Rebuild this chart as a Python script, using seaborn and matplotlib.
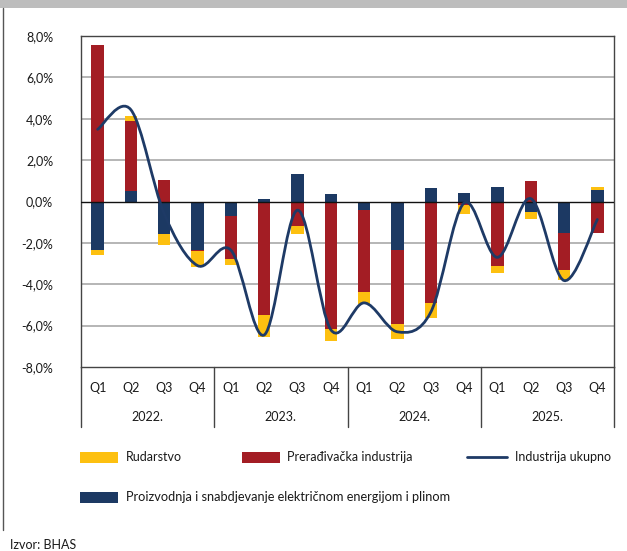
import numpy as np
import pandas as pd
import matplotlib
matplotlib.use("Agg")
import matplotlib.pyplot as plt
import seaborn as sns
from matplotlib.path import Path
from matplotlib.patches import PathPatch, Rectangle
from matplotlib.lines import Line2D

# ---------------- data ----------------
years = ["2022.", "2023.", "2024.", "2025."]
quarters = ["Q1", "Q2", "Q3", "Q4"]
periods = [f"{y} {q}" for y in years for q in quarters]

energija = [-2.36, 0.50, -1.58, -2.36, -0.70, 0.10, 1.31, 0.35,
            -0.42, -2.33, 0.66, 0.43, 0.68, -0.50, -1.52, 0.58]
preradjivacka = [7.57, 3.40, 1.06, -0.05, -2.06, -5.51, -1.20, -6.15,
                 -3.96, -3.58, -4.89, -0.18, -3.13, 1.00, -1.77, -1.52]
rudarstvo = [-0.21, 0.23, -0.52, -0.76, -0.29, -1.05, -0.38, -0.57,
             -0.59, -0.73, -0.76, -0.43, -0.32, -0.36, -0.52, 0.10]
ukupno = [3.49, 4.43, -0.60, -3.10, -2.35, -6.45, -0.42, -6.20,
          -4.90, -6.30, -5.35, -0.07, -2.70, 0.14, -3.82, -0.87]

yticks = [8, 6, 4, 2, 0, -2, -4, -6, -8]

series_names = ["Proizvodnja i snabdjevanje električnom energijom i plinom",
                "Prerađivačka industrija", "Rudarstvo"]
line_name = "Industrija ukupno"

C_YEL = "#FDC010"
C_RED = "#A31D24"
C_BLU = "#1C3963"
C_LINE = "#1E3A66"
TXT = "#1A1A1A"

# ---------------- figure ----------------
sns.set_theme(style="white")
plt.rcParams['font.family'] = ['Lato', 'DejaVu Sans']

fig = plt.figure(figsize=(6.27, 5.51), dpi=100)
W, H = 627, 551
ax = fig.add_axes([81 / W, 1 - 367 / H, (614 - 81) / W, (367 - 36) / H])

# stacked bars (separate positive / negative stacks, order blue, red, yellow)
pos_base = np.zeros(len(periods))
neg_base = np.zeros(len(periods))
for vals, col in [(energija, C_BLU), (preradjivacka, C_RED), (rudarstvo, C_YEL)]:
    v = np.array(vals)
    bottom = np.where(v >= 0, pos_base, neg_base)
    df = pd.DataFrame({"period": periods, "value": v})
    sns.barplot(data=df, x="period", y="value", order=periods, color=col,
                saturation=1, width=0.37, bottom=bottom, ax=ax,
                linewidth=0, zorder=3)
    pos_base = pos_base + np.where(v >= 0, v, 0)
    neg_base = neg_base + np.where(v < 0, v, 0)

# smoothed total line (Excel style cubic Bezier through points)
xs = np.arange(len(ukupno), dtype=float)
ys = np.array(ukupno, dtype=float)
pts = np.column_stack([xs, ys])
verts = [tuple(pts[0])]
codes = [Path.MOVETO]
n = len(pts)
for i in range(n - 1):
    p0 = pts[i - 1] if i > 0 else pts[i]
    p1 = pts[i]
    p2 = pts[i + 1]
    p3 = pts[i + 2] if i + 2 < n else pts[i + 1]
    c1 = p1 + (p2 - p0) / 6.0
    c2 = p2 - (p3 - p1) / 6.0
    verts += [tuple(c1), tuple(c2), tuple(p2)]
    codes += [Path.CURVE4, Path.CURVE4, Path.CURVE4]
ax.add_patch(PathPatch(Path(verts, codes), facecolor="none", edgecolor=C_LINE,
                       lw=2.0, zorder=5, capstyle="round"))

# axes styling
ax.set_xlim(-0.5, len(periods) - 0.5)
ax.set_ylim(-8, 8)
ax.set_yticks(yticks)
ax.set_yticklabels([f"{t:.1f}".replace(".", ",") + "%" for t in yticks], fontsize=9, color=TXT)
ax.tick_params(axis="y", length=0, pad=20)
ax.set_xticks(range(len(periods)))
ax.set_xticklabels([q for _ in years for q in quarters], fontsize=9, color=TXT)
ax.tick_params(axis="x", length=0, pad=11)
ax.set_xlabel("")
ax.set_ylabel("")
for t in yticks:
    if t in (8, -8):
        continue
    if t == 0:
        ax.axhline(0, color="#111111", lw=1.0, zorder=4)
    else:
        ax.axhline(t, color="#B5B5B5", lw=1.4, zorder=1)
for s in ax.spines.values():
    s.set_color("#444444")
    s.set_linewidth(1.0)
    s.set_visible(True)
ax.grid(False)

# category separators and year labels
tr = ax.get_xaxis_transform()
sep_bottom = -(427 - 367) / (367 - 36)
for k in range(len(years) + 1):
    xpos = -0.5 + 4 * k
    ax.add_line(Line2D([xpos, xpos], [0, sep_bottom], transform=tr,
                       color="#444444", lw=1.0, clip_on=False))
for k, y in enumerate(years):
    ax.text(4 * k + 1.5, -(417 - 367) / (367 - 36), y, transform=tr,
            ha="center", va="center", fontsize=9, color=TXT)

# top band and frame
fig.add_artist(Rectangle((0, 1 - 8 / H), 1, 8 / H, transform=fig.transFigure,
                         facecolor="#BDBDBD", edgecolor="none"))
fig.add_artist(Line2D([3 / W, 3 / W], [1 - 8 / H, 1 - 530 / H], transform=fig.transFigure,
                      color="#555555", lw=1.0))

# legend (manual layout)
def patch(x0, yc, col):
    fig.add_artist(Rectangle((x0 / W, 1 - (yc + 5.5) / H), 38 / W, 11 / H,
                             transform=fig.transFigure, facecolor=col, edgecolor="none"))

patch(80, 457, C_YEL)
fig.text(126 / W, 1 - 457 / H, series_names[2], fontsize=9, va="center", color=TXT)
patch(242, 457, C_RED)
fig.text(287 / W, 1 - 457 / H, series_names[1], fontsize=9, va="center", color=TXT)
fig.add_artist(Line2D([467 / W, 507 / W], [1 - 457 / H, 1 - 457 / H], transform=fig.transFigure,
                      color=C_LINE, lw=2.0))
fig.text(515 / W, 1 - 457 / H, line_name, fontsize=9, va="center", color=TXT)
patch(80, 497, C_BLU)
fig.text(126 / W, 1 - 497 / H, series_names[0], fontsize=9.2, va="center", color=TXT)

fig.text(10 / W, 1 - 545 / H, "Izvor: BHAS", fontsize=9, va="center", color=TXT)

fig.savefig("out.png", dpi=100)
